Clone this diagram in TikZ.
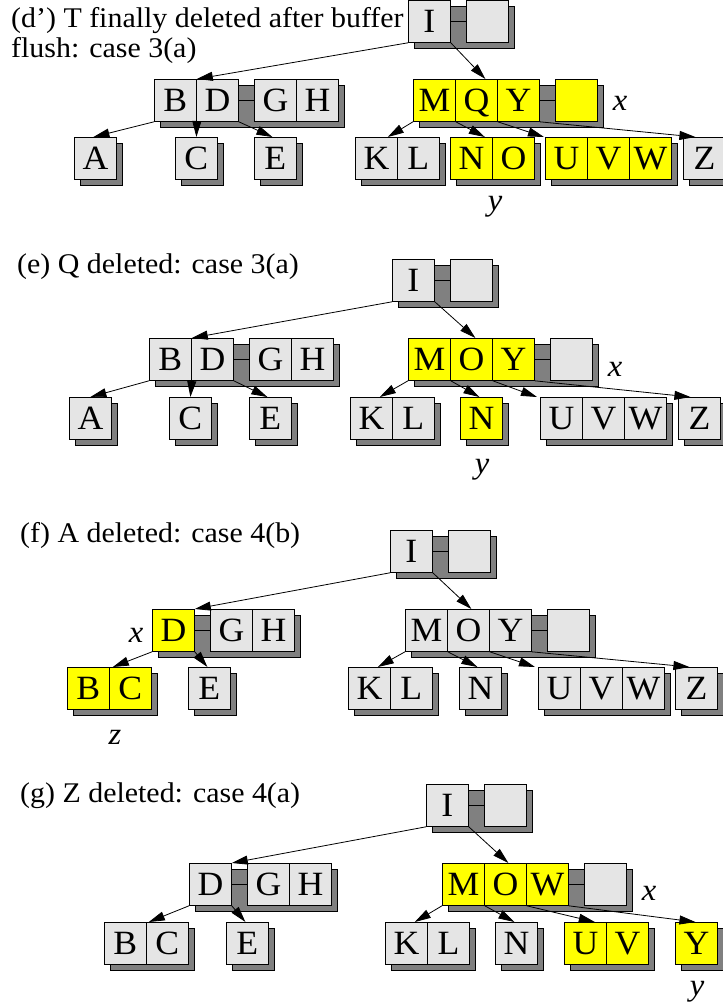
\documentclass[tikz,border=0pt]{standalone}
\usepackage{fontspec}
\setmainfont{Liberation Serif}
\newfontfamily\ttlfont[FakeStretch=1.05]{Liberation Serif}
\usetikzlibrary{arrows.meta,backgrounds}
\definecolor{kgray}{gray}{0.9}
\definecolor{sgray}{gray}{0.5}
\definecolor{kyel}{rgb}{1,1,0}
\tikzset{
  kbox/.style={draw=black, line width=0.8pt, minimum width=42pt, minimum height=42pt,
    inner sep=0pt, anchor=north west, text height=22.5pt, text depth=0pt,
    font=\ttlfont\fontsize{34}{34}\selectfont},
  shadowbox/.style={draw=black, line width=0.7pt, fill=sgray},
  link/.style={draw=black, line width=0.8pt},
  arr/.style={draw=black, line width=0.8pt, -{Triangle[length=16pt,width=9pt]}},
  ttl/.style={anchor=base west, inner sep=0pt, font=\ttlfont\fontsize{28.5}{34}\selectfont},
  lab/.style={inner sep=0pt, anchor=center, font=\ttlfont\itshape\fontsize{31}{31}\selectfont},
}
% #1 name, #2 x, #3 y (top-left), #4 keys, #5 buffer boxes
\newcommand\btn[5]{%
  \foreach \kk/\cc [count=\ii] in {#4}{%
    \node[kbox, fill=\cc] (#1-\ii) at ({#2+42*(\ii-1)},{#3}) {\kk};
    \xdef\btlast{\ii}}%
  \xdef\btend{#1-\btlast}%
  \if\relax\detokenize{#5}\relax\else
    \foreach \kk/\cc [count=\ii] in {#5}{%
      \node[kbox, fill=\cc] (#1-b\ii) at ({#2+42*\btlast+16+42*(\ii-1)},{#3}) {\kk};
      \xdef\btbl{\ii}}%
    \draw[link] (#1-\btlast.east) -- (#1-b1.west);
    \xdef\btend{#1-b\btbl}%
  \fi
  \begin{pgfonlayer}{background}
    \draw[shadowbox] ([shift={(6,6)}]#1-1.north west) rectangle ([shift={(6,6)}]\btend.south east);
  \end{pgfonlayer}
}
\begin{document}
\begin{tikzpicture}[x=1pt,y=-1pt]
\useasboundingbox (0,0) rectangle (723,1005);
% ---------------- (d') ----------------
\node[ttl] (dt1) at (11,27) {(d’) T finally deleted after buffer};
\node[ttl] (dt2) at (11,57) {flush: case 3(a)};
\btn{dI}{408}{0}{I/kgray}{{}/kgray}
\btn{dL}{154}{79}{B/kgray,D/kgray}{G/kgray,H/kgray}
\btn{dR}{413}{79}{M/kyel,Q/kyel,Y/kyel}{{}/kyel}
\btn{dA}{74}{137}{A/kgray}{}
\btn{dC}{175}{137}{C/kgray}{}
\btn{dE}{254}{137}{E/kgray}{}
\btn{dK}{355}{137}{K/kgray,L/kgray}{}
\btn{dN}{450}{137}{N/kyel,O/kyel}{}
\btn{dU}{545}{137}{U/kyel,V/kyel,W/kyel}{}
\btn{dZ}{683}{137}{Z/kgray}{}
\node[lab] (dx) at (620,103.5) {x};
\node[lab] (dy) at (495,207) {y};
\draw[arr] (dI-1.south west) -- (dL-1.north east);
\draw[arr] (dI-1.south east) -- ([xshift=9pt]dR-2.north);
\draw[arr] (dL-1.south west) -- ([xshift=-2pt]dA-1.north);
\draw[arr] (dL-1.south east) -- (dC-1.north);
\draw[arr] (dL-2.south east) -- ([xshift=-3pt]dE-1.north);
\draw[arr] (dR-1.south west) -- ([xshift=-10pt]dK-1.north east);
\draw[arr] (dR-1.south east) -- ([xshift=-8pt]dN-1.north east);
\draw[arr] (dR-2.south east) -- ([xshift=-1pt]dU-1.north west);
\draw[arr] (dR-3.south east) -- ([xshift=-9pt]dZ-1.north);
% ---------------- (e) ----------------
\node[ttl] (et) at (17,273) {(e) Q deleted: case 3(a)};
\btn{eI}{392}{259}{I/kgray}{{}/kgray}
\btn{eL}{149}{338}{B/kgray,D/kgray}{G/kgray,H/kgray}
\btn{eR}{408}{338}{M/kyel,O/kyel,Y/kyel}{{}/kgray}
\btn{eA}{69}{397}{A/kgray}{}
\btn{eC}{169}{397}{C/kgray}{}
\btn{eE}{249}{397}{E/kgray}{}
\btn{eK}{350}{397}{K/kgray,L/kgray}{}
\btn{eN}{460}{397}{N/kyel}{}
\btn{eU}{540}{397}{U/kgray,V/kgray,W/kgray}{}
\btn{eZ}{678}{397}{Z/kgray}{}
\node[lab] (ex) at (615,369) {x};
\node[lab] (ey) at (482,470) {y};
\draw[arr] (eI-1.south west) -- (eL-1.north east);
\draw[arr] (eI-1.south east) -- ([xshift=4pt]eR-2.north);
\draw[arr] (eL-1.south west) -- (eA-1.north);
\draw[arr] (eL-1.south east) -- (eC-1.north);
\draw[arr] (eL-2.south east) -- ([xshift=-3pt]eE-1.north);
\draw[arr] (eR-1.south west) -- ([xshift=-13pt]eK-1.north east);
\draw[arr] (eR-1.south east) -- ([xshift=-2pt]eN-1.north);
\draw[arr] (eR-2.south east) -- ([xshift=-3pt]eU-1.north west);
\draw[arr] (eR-3.south east) -- ([xshift=-9pt]eZ-1.north);
% ---------------- (f) ----------------
\node[ttl] (ft) at (20,542) {(f) A deleted: case 4(b)};
\btn{fI}{390}{530}{I/kgray}{{}/kgray}
\btn{fL}{152}{609}{D/kyel}{G/kgray,H/kgray}
\btn{fR}{405}{609}{M/kgray,O/kgray,Y/kgray}{{}/kgray}
\btn{fB}{67}{667}{B/kyel,C/kyel}{}
\btn{fE}{188}{667}{E/kgray}{}
\btn{fK}{348}{667}{K/kgray,L/kgray}{}
\btn{fN}{459}{667}{N/kgray}{}
\btn{fU}{538}{667}{U/kgray,V/kgray,W/kgray}{}
\btn{fZ}{675}{667}{Z/kgray}{}
\node[lab] (fx) at (136,635) {x};
\node[lab] (fz) at (115,737) {z};
\draw[arr] (fI-1.south west) -- (fL-1.north east);
\draw[arr] (fI-1.south east) -- ([xshift=3pt]fR-2.north);
\draw[arr] (fL-1.south west) -- ([xshift=3pt]fB-1.north east);
\draw[arr] (fL-1.south east) -- ([xshift=-2pt]fE-1.north);
\draw[arr] (fR-1.south west) -- ([xshift=-13pt]fK-1.north east);
\draw[arr] (fR-1.south east) -- ([xshift=-3pt]fN-1.north);
\draw[arr] (fR-2.south east) -- ([xshift=-3pt]fU-1.north west);
\draw[arr] (fR-3.south east) -- ([xshift=-7pt]fZ-1.north);
% ---------------- (g) ----------------
\node[ttl] (gt) at (20,802) {(g) Z deleted: case 4(a)};
\btn{gI}{426}{784}{I/kgray}{{}/kgray}
\btn{gL}{189}{863}{D/kgray}{G/kgray,H/kgray}
\btn{gR}{442}{863}{M/kyel,O/kyel,W/kyel}{{}/kgray}
\btn{gB}{104}{922}{B/kgray,C/kgray}{}
\btn{gE}{226}{922}{E/kgray}{}
\btn{gK}{385}{922}{K/kgray,L/kgray}{}
\btn{gN}{495}{922}{N/kgray}{}
\btn{gU}{564}{922}{U/kyel,V/kyel}{}
\btn{gY}{675}{922}{Y/kyel}{}
\node[lab] (gx) at (649,893) {x};
\node[lab] (gy) at (697,992) {y};
\draw[arr] (gI-1.south west) -- (gL-1.north east);
\draw[arr] (gI-1.south east) -- ([xshift=3pt]gR-2.north);
\draw[arr] (gL-1.south west) -- ([xshift=2pt]gB-1.north east);
\draw[arr] (gL-1.south east) -- ([xshift=-2pt]gE-1.north);
\draw[arr] (gR-1.south west) -- ([xshift=-13pt]gK-1.north east);
\draw[arr] (gR-1.south east) -- ([xshift=-2pt]gN-1.north);
\draw[arr] (gR-2.south east) -- ([xshift=-12pt]gU-1.north east);
\draw[arr] (gR-3.south east) -- ([xshift=-1pt]gY-1.north);
\end{tikzpicture}
\end{document}
